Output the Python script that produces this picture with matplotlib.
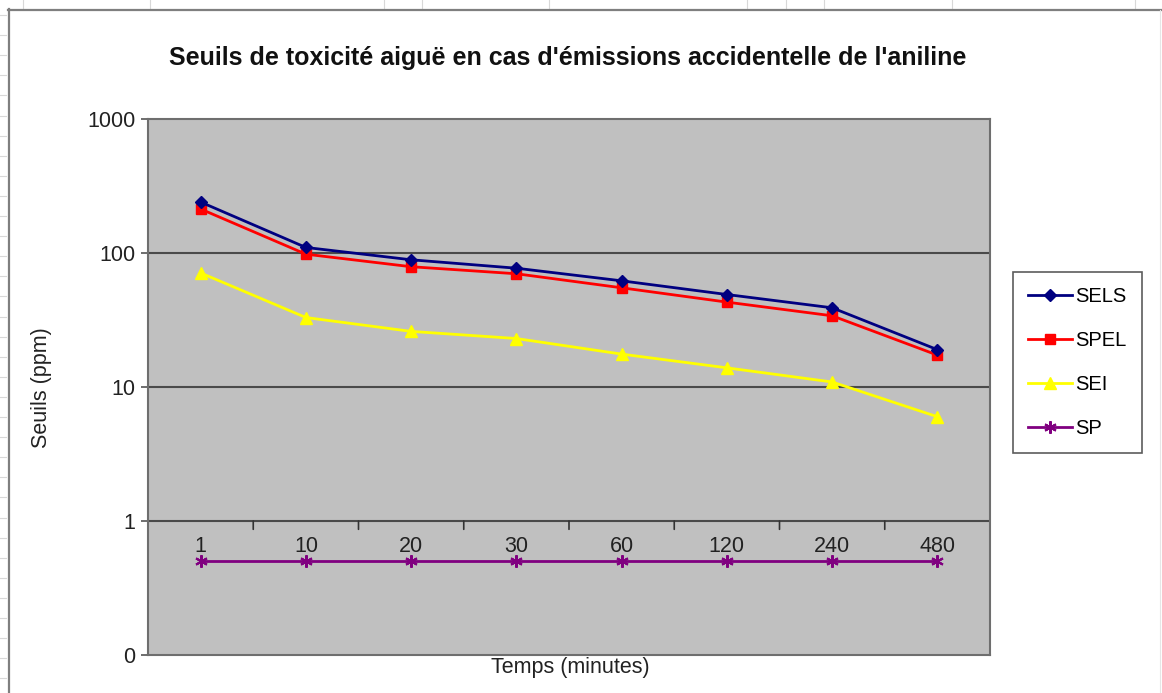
import numpy as np
import matplotlib
matplotlib.use("Agg")
import matplotlib.pyplot as plt
from matplotlib.lines import Line2D

plt.rcParams['font.family'] = ['Liberation Sans', 'DejaVu Sans']

# Exposure durations (minutes) and threshold values (ppm)
durations = ["1", "10", "20", "30", "60", "120", "240", "480"]
sels = [240, 110, 89, 77, 62, 49, 39, 19]
spel = [213, 98, 79, 70, 55, 43, 34, 17.3]
sei = [71, 33, 26, 23, 17.6, 13.9, 10.9, 6]
sp = [0.5, 0.5, 0.5, 0.5, 0.5, 0.5, 0.5, 0.5]

y_ticks = [0.1, 1, 10, 100, 1000]
y_tick_labels = ["0", "1", "10", "100", "1000"]

W, H = 1162, 693
fig = plt.figure(figsize=(W / 100, H / 100), dpi=100)
fig.patch.set_facecolor("white")

# Worksheet cell edges around the embedded chart
for xc in [23, 150, 384, 422, 549, 747, 786, 824, 952, 1135]:
    fig.add_artist(Line2D([xc / W, xc / W], [1, 1 - 8 / H], color="#d8d8d8", lw=0.8))
for yr in np.arange(15, H, 20.1):
    fig.add_artist(Line2D([0, 6 / W], [1 - yr / H, 1 - yr / H], color="#d8d8d8", lw=0.8))
# Chart object border
fig.add_artist(Line2D([8.5 / W, 8.5 / W], [0, 1 - 9 / H], color="#7f7f7f", lw=1.6))
fig.add_artist(Line2D([8 / W, 1], [1 - 9.5 / H, 1 - 9.5 / H], color="#7f7f7f", lw=1.6))
fig.add_artist(Line2D([1160 / W, 1160 / W], [0, 1 - 10 / H], color="#e6e6e6", lw=0.8))

# Plot area
left, right, top, bottom = 148, 990, 119, 655
ax = fig.add_axes([left / W, 1 - bottom / H, (right - left) / W, (bottom - top) / H])
ax.set_facecolor("#c0c0c0")
ax.set_yscale("log")
ax.set_ylim(0.1, 1000)
ax.set_xlim(-0.5, len(durations) - 0.5)

for s in ax.spines.values():
    s.set_color("#6e6e6e")
    s.set_linewidth(1.5)

fs = 15.5
ax.set_yticks(y_ticks)
ax.set_yticklabels(y_tick_labels, fontsize=fs, color="#222222")
ax.minorticks_off()
ax.tick_params(axis="y", direction="out", length=5, width=1.2, color="#555555", pad=4)
ax.tick_params(axis="x", bottom=False, labelbottom=False)

for yv in [1, 10, 100]:
    ax.axhline(yv, color="#4a4a4a", lw=1.5, zorder=1)

# Category axis crossing at 1: tick marks between categories and labels under it
x = np.arange(len(durations))
for k in range(1, len(durations)):
    ax.annotate("", xy=(k - 0.5, 1), xytext=(0, -6), textcoords="offset points",
                arrowprops=dict(arrowstyle="-", color="#333333", lw=1.2,
                                shrinkA=0, shrinkB=0))
for xi, lab in zip(x, durations):
    ax.annotate(lab, xy=(xi, 1), xytext=(0, -11), textcoords="offset points",
                ha="center", va="top", fontsize=fs, color="#222222")

lw = 2.0
ax.plot(x, sels, color="#000080", marker="D", markersize=6, lw=lw, label="SELS", zorder=4)
ax.plot(x, spel, color="#ff0000", marker="s", markersize=7, lw=lw, label="SPEL", zorder=3)
ax.plot(x, sei, color="#ffff00", marker="^", markersize=8, lw=lw, label="SEI", zorder=3)
ax.plot(x, sp, color="#800080", marker=(6, 2, 0), markersize=9, mew=1.5, lw=lw,
        label="SP", zorder=3)

leg = ax.legend(loc="upper left", bbox_to_anchor=((1013 - left) / (right - left),
                                                   1 - (272 - top) / (bottom - top)),
                frameon=True, fancybox=False, fontsize=14.5, handlelength=2.2,
                labelspacing=1.24, borderpad=0.75, handletextpad=0.15,
                borderaxespad=0)
leg.get_frame().set_edgecolor("#333333")
leg.get_frame().set_linewidth(1.2)
leg.get_frame().set_facecolor("white")

fig.text(568 / W, 1 - 58 / H, "Seuils de toxicité aiguë en cas d'émissions accidentelle de l'aniline",
         ha="center", va="center", fontsize=18, fontweight="bold", color="#111111")
fig.text(42 / W, 1 - 388 / H, "Seuils (ppm)", rotation=90, ha="center", va="center",
         fontsize=fs, color="#222222")
fig.text(570 / W, 1 - 668 / H, "Temps (minutes)", ha="center", va="center",
         fontsize=fs, color="#222222")

fig.savefig("out.png", dpi=100)
